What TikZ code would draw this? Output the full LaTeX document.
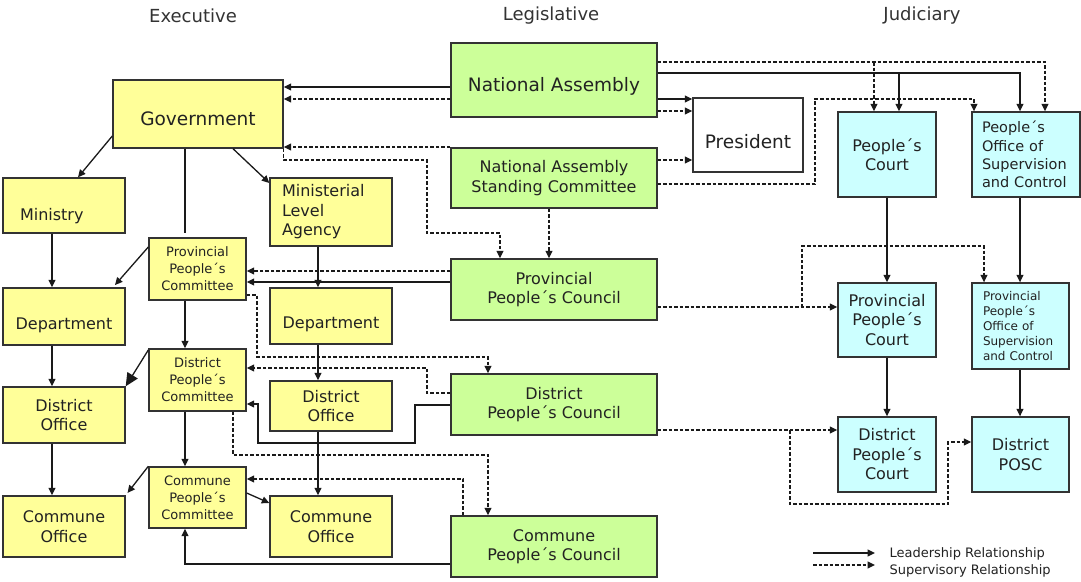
\documentclass[tikz,border=0pt]{standalone}
\usepackage{fontspec}
\setmainfont{DejaVu Sans}
\usetikzlibrary{arrows.meta}
\definecolor{yel}{HTML}{FFFF99}
\definecolor{grn}{HTML}{CCFF99}
\definecolor{cyn}{HTML}{CCFFFF}
\definecolor{bord}{HTML}{333333}
\definecolor{lin}{HTML}{1A1A1A}
\definecolor{txt}{HTML}{222222}
\definecolor{titc}{HTML}{333333}
\newcommand\mybox[7]{\node[#6, minimum width={(#4-#2)*1pt}, minimum height={(#5-#3)*1pt}] (#1) at ({(#2+#4)/2},{(#3+#5)/2}) {#7};}
\begin{document}
\begin{tikzpicture}[x=1pt,y=-1pt,
  box/.style={draw=bord, line width=1.4pt, inner sep=0pt, text=txt, align=center},
  ybox/.style={box, fill=yel},
  gbox/.style={box, fill=grn},
  cbox/.style={box, fill=cyn},
  wbox/.style={box, fill=white},
  lowertext/.style={text height=#1, text depth=0pt},
  fbig/.style={font=\fontsize{18.5}{22}\selectfont},
  fmid/.style={font=\fontsize{16}{19.5}\selectfont},
  fsm/.style={font=\fontsize{13}{17}\selectfont},
  fposc/.style={font=\fontsize{14.5}{18.3}\selectfont},
  ftiny/.style={font=\fontsize{12}{15}\selectfont},
  lead/.style={draw=lin, line width=1.3pt, -{Triangle[length=7.5pt,width=7pt]}},
  sup/.style={lead, dash pattern=on 3.5pt off 2pt},
  plainline/.style={draw=lin, line width=1.3pt},
  bighead/.style={draw=lin, line width=1.3pt, -{Triangle[length=13pt,width=12pt]}},
  title/.style={text=titc, font=\fontsize{18}{22}\selectfont},
  legtext/.style={text=txt, anchor=west, font=\fontsize{13}{16}\selectfont}
]
\useasboundingbox (0,0) rectangle (1081,581);
\fill[white] (0,0) rectangle (1081,581);

% titles
\node[title] (tex) at (193,16) {Executive};
\node[title] (tleg) at (551,16) {Legislative};
\node[title] (tjud) at (922,16) {Judiciary};

% boxes
\mybox{gov}{113}{80}{283}{148}{ybox,fbig,lowertext=22pt}{Government}
\mybox{na}{451}{43}{657}{117}{gbox,fbig,lowertext=22.6pt}{National Assembly}
\mybox{nasc}{451}{148}{657}{208}{gbox,fmid}{National Assembly\\Standing Committee}
\mybox{pres}{693}{98}{803}{172}{wbox,fbig,lowertext=26pt}{President}
\mybox{pc}{838}{112}{936}{197}{cbox,fmid}{People´s\\Court}
\mybox{posc}{972}{112}{1080}{197}{cbox,fposc,text width=88pt,align=left}{People´s\\Office of\\Supervision\\and Control}
\mybox{min}{3}{178}{125}{233}{ybox,fmid,text width=88pt,align=left,lowertext=30.4pt}{Ministry}
\mybox{mla}{270}{178}{392}{246}{ybox,fmid,text width=98pt,align=left}{Ministerial\\Level\\Agency}
\mybox{ppc}{149}{238}{246}{300}{ybox,fsm}{Provincial\\People´s\\Committee}
\mybox{dep1}{3}{288}{125}{345}{ybox,fmid,lowertext=25.4pt}{Department}
\mybox{dep2}{270}{288}{392}{344}{ybox,fmid,lowertext=25.4pt}{Department}
\mybox{dpc}{149}{349}{246}{411}{ybox,fsm}{District\\People´s\\Committee}
\mybox{do1}{3}{387}{125}{443}{ybox,fmid}{District\\Office}
\mybox{do2}{270}{381}{392}{431}{ybox,fmid}{District\\Office}
\mybox{cpc}{149}{467}{246}{528}{ybox,fsm}{Commune\\People´s\\Committee}
\mybox{co1}{3}{496}{125}{557}{ybox,fmid}{Commune\\Office}
\mybox{co2}{270}{496}{392}{557}{ybox,fmid}{Commune\\Office}
\mybox{ppcl}{451}{259}{657}{320}{gbox,fmid}{Provincial\\People´s Council}
\mybox{dpcl}{451}{374}{657}{435}{gbox,fmid}{District\\People´s Council}
\mybox{cpcl}{451}{516}{657}{577}{gbox,fmid}{Commune\\People´s Council}
\mybox{ppct}{838}{283}{936}{357}{cbox,fmid}{Provincial\\People´s\\Court}
\mybox{pposc}{972}{283}{1069}{369}{cbox,ftiny,text width=75pt,align=left}{Provincial\\People´s\\Office of\\Supervision\\and Control}
\mybox{dpct}{838}{417}{936}{492}{cbox,fmid}{District\\People´s\\Court}
\mybox{dposc}{972}{417}{1069}{492}{cbox,fmid}{District\\POSC}

% junction coordinates
\coordinate (j1) at (899,73);
\coordinate (j2) at (874,62);
\coordinate (j3) at (802,307);
\coordinate (j4) at (790,430);

% National Assembly / NASC to Government
\draw[lead] (na.west |- 0,87) -- (gov.east |- 0,87);
\draw[sup] (na.west |- 0,99) -- (gov.east |- 0,99);
\draw[sup] (nasc.west |- 0,147) -- (gov.east |- 0,147);
\draw[sup] (gov.south east) |- (427,160) |- (500,233) -- (ppcl.north -| 500,0);
\draw[sup] (nasc.south -| 549,0) -- (ppcl.north -| 549,0);

% to President
\draw[lead] (na.east |- 0,99) -- (pres.west |- 0,99);
\draw[sup] (na.east |- 0,111) -- (pres.west |- 0,111);
\draw[sup] (nasc.east |- 0,160) -- (pres.west |- 0,160);

% to Judiciary
\draw[sup] (nasc.east |- 0,184) -| (815,99) -| (posc.north -| 974,0);
\draw[lead] (na.east |- 0,73) -| (posc.north -| 1020,0);
\draw[lead] (j1) -- (pc.north -| j1);
\draw[sup] (na.east |- 0,62) -| (posc.north -| 1045,0);
\draw[sup] (j2) -- (pc.north -| j2);

% judiciary vertical chain
\draw[lead] (pc.south) -- (ppct.north);
\draw[lead] (posc.south -| 1020,0) -- (pposc.north -| 1020,0);
\draw[lead] (ppct.south) -- (dpct.north);
\draw[lead] (pposc.south -| 1020,0) -- (dposc.north -| 1020,0);

% councils to judiciary
\draw[sup] (ppcl.east |- 0,307) -- (ppct.west |- 0,307);
\draw[sup] (j3) |- (984,246) -- (pposc.north -| 984,0);
\draw[sup] (dpcl.east |- 0,430) -- (dpct.west |- 0,430);
\draw[sup] (j4) |- (948,504) |- (dposc.west |- 0,442);

% Government down
\draw[lead] (gov.west |- 0,136) -- (min.north -| 78,0);
\draw[lead] (gov.south -| 233,0) -- (mla.west |- 0,183);
\draw[plainline, shorten >=4pt] (gov.south -| 185,0) -- (ppc.north -| 185,0);

% ministries chain
\draw[lead] (min.south -| 52,0) -- (dep1.north -| 52,0);
\draw[lead] (dep1.south -| 52,0) -- (do1.north -| 52,0);
\draw[lead] (do1.south -| 52,0) -- (co1.north -| 52,0);
\draw[lead] (mla.south -| 318,0) -- (dep2.north -| 318,0);
\draw[lead] (dep2.south -| 318,0) -- (do2.north -| 318,0);
\draw[lead] (do2.south -| 318,0) -- (co2.north -| 318,0);

% committees
\draw[lead, shorten >=3pt] (ppc.west |- 0,247) -- (dep1.north -| 113,0);
\draw[lead] (ppc.south -| 185,0) -- (dpc.north -| 185,0);
\draw[bighead] (dpc.west |- 0,350) -- (do1.north east);
\draw[lead] (dpc.south -| 185,0) -- (cpc.north -| 185,0);
\draw[lead, shorten >=3pt] (cpc.north west) -- (co1.north east);
\draw[lead] (cpc.east |- 0,493) -- (co2.west |- 0,503);

% councils to committees
\draw[sup] (ppcl.west |- 0,271) -- (ppc.east |- 0,271);
\draw[lead] (ppcl.west |- 0,282) -- (ppc.east |- 0,282);
\draw[sup] (ppc.east |- 0,295) -| (257,357) -| (dpcl.north -| 488,0);
\draw[sup] (dpcl.west |- 0,393) -| (427,368) -- (dpc.east |- 0,368);
\draw[lead] (dpcl.west |- 0,405) -| (415,443) -| (258,404) -- (dpc.east |- 0,404);
\draw[sup] (dpc.south -| 233,0) |- (488,455) -- (cpcl.north -| 488,0);
\draw[sup] (cpcl.north -| 463,0) |- (cpc.east |- 0,479);
\draw[lead] (cpcl.west |- 0,564) -| (cpc.south -| 185,0);

% legend
\coordinate (l1a) at (813,553);
\coordinate (l1b) at (875,553);
\coordinate (l2a) at (813,565);
\coordinate (l2b) at (875,565);
\draw[lead] (l1a) -- (l1b);
\draw[sup] (l2a) -- (l2b);
\node[legtext] (lt1) at (886,554) {Leadership Relationship};
\node[legtext] (lt2) at (886,571) {Supervisory Relationship};
\end{tikzpicture}
\end{document}
